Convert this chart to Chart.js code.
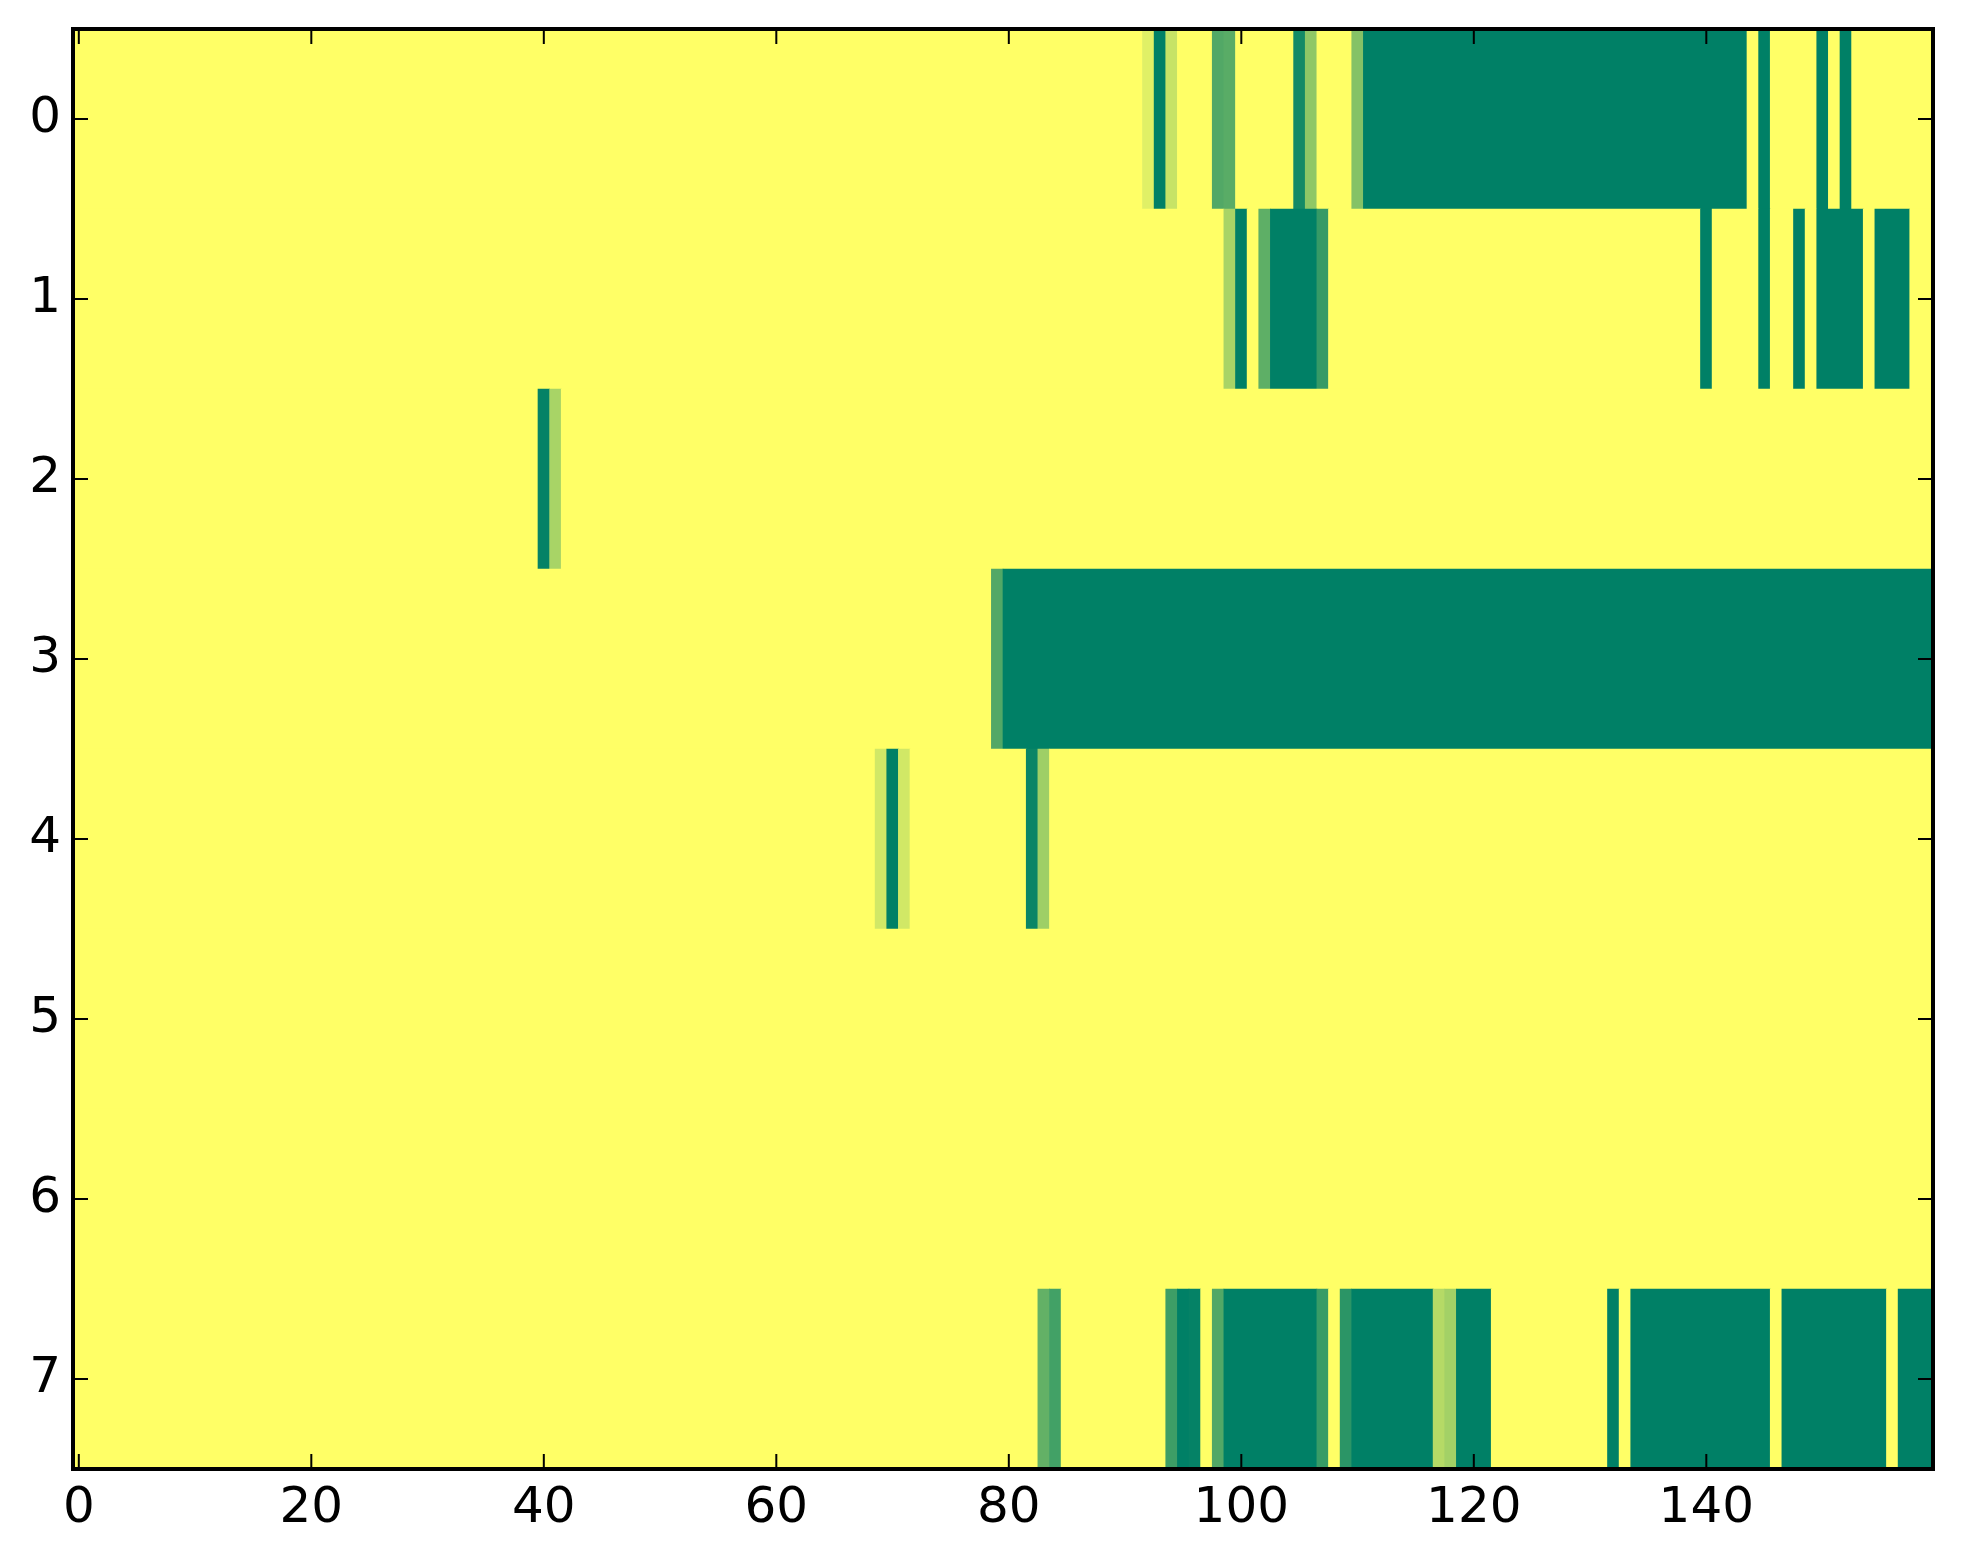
<!DOCTYPE html>
<html>
<head>
<meta charset="utf-8">
<script src="https://cdn.jsdelivr.net/npm/chart.js@4.4.1/dist/chart.umd.min.js"></script>
<style>
  html, body { margin: 0; padding: 0; background: #ffffff; }
  #wrap { width: 1963px; height: 1564px; }
</style>
</head>
<body>
<div id="wrap"><canvas id="c" width="1963" height="1564"></canvas></div>
<script>
// Row labels (y axis) and x tick labels
const yLabels = ['0', '1', '2', '3', '4', '5', '6', '7'];
const xTickValues = [0, 20, 40, 60, 80, 100, 120, 140];

// Cell values per row, columns 0..159 (colormap: summer, 0 = green, 1 = yellow)
const row0 = [
1,1,1,1,1,1,1,1,1,1,1,1,1,1,1,1,1,1,1,1,
1,1,1,1,1,1,1,1,1,1,1,1,1,1,1,1,1,1,1,1,
1,1,1,1,1,1,1,1,1,1,1,1,1,1,1,1,1,1,1,1,
1,1,1,1,1,1,1,1,1,1,1,1,1,1,1,1,1,1,1,1,
1,1,1,1,1,1,1,1,1,1,1,1,0.88,0,0.78,1,1,1,0.32,0.35,
1,1,1,1,1,0.08,0.56,1,1,1,0.52,0,0,0,0,0,0,0,0,0,
0,0,0,0,0,0,0,0,0,0,0,0,0,0,0,0,0,0,0,0,
0,0,0,0,1,0,1,1,1,1,0,1,0,1,1,1,1,1,1,1
];
const row1 = [
1,1,1,1,1,1,1,1,1,1,1,1,1,1,1,1,1,1,1,1,
1,1,1,1,1,1,1,1,1,1,1,1,1,1,1,1,1,1,1,1,
1,1,1,1,1,1,1,1,1,1,1,1,1,1,1,1,1,1,1,1,
1,1,1,1,1,1,1,1,1,1,1,1,1,1,1,1,1,1,1,1,
1,1,1,1,1,1,1,1,1,1,1,1,1,1,1,1,1,1,1,0.66,
0,1,0.37,0,0,0,0,0.21,1,1,1,1,1,1,1,1,1,1,1,1,
1,1,1,1,1,1,1,1,1,1,1,1,1,1,1,1,1,1,1,1,
0,1,1,1,1,0,1,1,0,1,0,0,0,0,1,0,0,0,1,1
];
const row2 = [
1,1,1,1,1,1,1,1,1,1,1,1,1,1,1,1,1,1,1,1,
1,1,1,1,1,1,1,1,1,1,1,1,1,1,1,1,1,1,1,1,
0.02,0.66,1,1,1,1,1,1,1,1,1,1,1,1,1,1,1,1,1,1,
1,1,1,1,1,1,1,1,1,1,1,1,1,1,1,1,1,1,1,1,
1,1,1,1,1,1,1,1,1,1,1,1,1,1,1,1,1,1,1,1,
1,1,1,1,1,1,1,1,1,1,1,1,1,1,1,1,1,1,1,1,
1,1,1,1,1,1,1,1,1,1,1,1,1,1,1,1,1,1,1,1,
1,1,1,1,1,1,1,1,1,1,1,1,1,1,1,1,1,1,1,1
];
const row3 = [
1,1,1,1,1,1,1,1,1,1,1,1,1,1,1,1,1,1,1,1,
1,1,1,1,1,1,1,1,1,1,1,1,1,1,1,1,1,1,1,1,
1,1,1,1,1,1,1,1,1,1,1,1,1,1,1,1,1,1,1,1,
1,1,1,1,1,1,1,1,1,1,1,1,1,1,1,1,1,1,1,0.32,
0,0,0,0,0,0,0,0,0,0,0,0,0,0,0,0,0,0,0,0,
0,0,0,0,0,0,0,0,0,0,0,0,0,0,0,0,0,0,0,0,
0,0,0,0,0,0,0,0,0,0,0,0,0,0,0,0,0,0,0,0,
0,0,0,0,0,0,0,0,0,0,0,0,0,0,0,0,0,0,0,0
];
const row4 = [
1,1,1,1,1,1,1,1,1,1,1,1,1,1,1,1,1,1,1,1,
1,1,1,1,1,1,1,1,1,1,1,1,1,1,1,1,1,1,1,1,
1,1,1,1,1,1,1,1,1,1,1,1,1,1,1,1,1,1,1,1,
1,1,1,1,1,1,1,1,1,0.82,0,0.82,1,1,1,1,1,1,1,1,
1,1,0.04,0.62,1,1,1,1,1,1,1,1,1,1,1,1,1,1,1,1,
1,1,1,1,1,1,1,1,1,1,1,1,1,1,1,1,1,1,1,1,
1,1,1,1,1,1,1,1,1,1,1,1,1,1,1,1,1,1,1,1,
1,1,1,1,1,1,1,1,1,1,1,1,1,1,1,1,1,1,1,1
];
const row5 = [
1,1,1,1,1,1,1,1,1,1,1,1,1,1,1,1,1,1,1,1,
1,1,1,1,1,1,1,1,1,1,1,1,1,1,1,1,1,1,1,1,
1,1,1,1,1,1,1,1,1,1,1,1,1,1,1,1,1,1,1,1,
1,1,1,1,1,1,1,1,1,1,1,1,1,1,1,1,1,1,1,1,
1,1,1,1,1,1,1,1,1,1,1,1,1,1,1,1,1,1,1,1,
1,1,1,1,1,1,1,1,1,1,1,1,1,1,1,1,1,1,1,1,
1,1,1,1,1,1,1,1,1,1,1,1,1,1,1,1,1,1,1,1,
1,1,1,1,1,1,1,1,1,1,1,1,1,1,1,1,1,1,1,1
];
const row6 = [
1,1,1,1,1,1,1,1,1,1,1,1,1,1,1,1,1,1,1,1,
1,1,1,1,1,1,1,1,1,1,1,1,1,1,1,1,1,1,1,1,
1,1,1,1,1,1,1,1,1,1,1,1,1,1,1,1,1,1,1,1,
1,1,1,1,1,1,1,1,1,1,1,1,1,1,1,1,1,1,1,1,
1,1,1,1,1,1,1,1,1,1,1,1,1,1,1,1,1,1,1,1,
1,1,1,1,1,1,1,1,1,1,1,1,1,1,1,1,1,1,1,1,
1,1,1,1,1,1,1,1,1,1,1,1,1,1,1,1,1,1,1,1,
1,1,1,1,1,1,1,1,1,1,1,1,1,1,1,1,1,1,1,1
];
const row7 = [
1,1,1,1,1,1,1,1,1,1,1,1,1,1,1,1,1,1,1,1,
1,1,1,1,1,1,1,1,1,1,1,1,1,1,1,1,1,1,1,1,
1,1,1,1,1,1,1,1,1,1,1,1,1,1,1,1,1,1,1,1,
1,1,1,1,1,1,1,1,1,1,1,1,1,1,1,1,1,1,1,1,
1,1,1,0.39,0.26,1,1,1,1,1,1,1,1,1,0.24,0,0.02,1,0.32,0,
0,0,0,0,0,0,0,0.22,1,0.17,0,0,0,0,0,0,0,0.71,0.64,0,
0,0,1,1,1,1,1,1,1,1,1,1,0,1,0,0,0,0,0,0,
0,0,0,0,0,0,1,0,0,0,0,0,0,0,0,0,1,0,0,0
];
const rows = [row0, row1, row2, row3, row4, row5, row6, row7];

// matplotlib "summer" colormap
function summer(v) {
  const r = Math.round(255 * v);
  const g = Math.round(255 * (0.5 + 0.5 * v));
  return 'rgb(' + r + ',' + g + ',102)';
}

// Build floating horizontal bars: one bar per run of equal cell values
const cells = [];
rows.forEach((row, r) => {
  let start = 0;
  for (let c = 1; c <= row.length; c++) {
    if (c === row.length || row[c] !== row[start]) {
      cells.push({ x: [start - 0.5, c - 0.5], y: yLabels[r], v: row[start] });
      start = c;
    }
  }
});

const frame = {
  id: 'frame',
  afterDatasetsDraw(chart) {
    const ctx = chart.ctx;
    const a = chart.chartArea;
    const xs = chart.scales.x, ys = chart.scales.y;
    const tl = 15;
    ctx.save();
    ctx.strokeStyle = '#000000';
    ctx.lineWidth = 2;
    xTickValues.forEach(v => {
      const px = xs.getPixelForValue(v);
      ctx.beginPath();
      ctx.moveTo(px, a.bottom); ctx.lineTo(px, a.bottom - tl);
      ctx.moveTo(px, a.top); ctx.lineTo(px, a.top + tl);
      ctx.stroke();
    });
    yLabels.forEach((lab, i) => {
      const py = ys.getPixelForValue(i);
      ctx.beginPath();
      ctx.moveTo(a.left, py); ctx.lineTo(a.left + tl, py);
      ctx.moveTo(a.right, py); ctx.lineTo(a.right - tl, py);
      ctx.stroke();
    });
    ctx.lineWidth = 4;
    ctx.strokeRect(a.left, a.top, a.right - a.left, a.bottom - a.top);
    ctx.restore();
  }
};

const tickFont = { family: 'DejaVu Sans', size: 50 };

new Chart(document.getElementById('c'), {
  type: 'bar',
  data: {
    labels: yLabels,
    datasets: [{
      data: cells,
      backgroundColor: ctx => summer(ctx.raw ? ctx.raw.v : 1),
      borderWidth: 0,
      barPercentage: 1,
      categoryPercentage: 1
    }]
  },
  options: {
    indexAxis: 'y',
    responsive: false,
    animation: false,
    devicePixelRatio: 1,
    layout: { padding: { left: 0, top: 29, right: 30, bottom: 0 } },
    plugins: { legend: { display: false }, tooltip: { enabled: false } },
    scales: {
      x: {
        type: 'linear',
        min: -0.5,
        max: 159.5,
        afterBuildTicks: s => { s.ticks = xTickValues.map(v => ({ value: v })); },
        afterFit: s => { s.height = 95; s.paddingLeft = 0; s.paddingRight = 0; },
        grid: { display: false, drawTicks: false },
        border: { display: false },
        ticks: { color: '#000000', font: tickFont, padding: 10, maxRotation: 0, autoSkip: false }
      },
      y: {
        type: 'category',
        offset: true,
        afterFit: s => { s.width = 73; s.paddingTop = 0; s.paddingBottom = 0; },
        grid: { display: false, drawTicks: false },
        border: { display: false },
        ticks: { color: '#000000', font: tickFont, padding: 12 }
      }
    }
  },
  plugins: [frame]
});
</script>
</body>
</html>
